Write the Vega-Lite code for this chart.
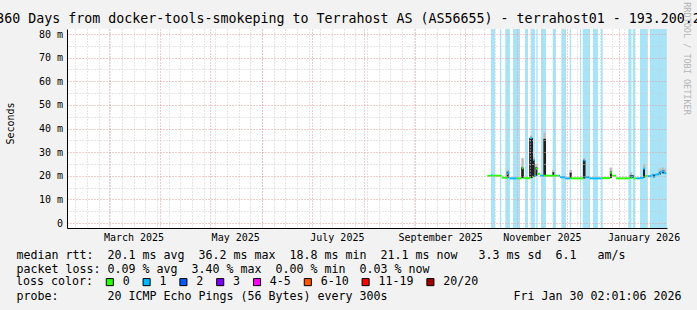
{
  "$schema": "https://vega.github.io/schema/vega-lite/v6.json",
  "width": 600,
  "height": 199,
  "autosize": {"type": "none"},
  "padding": {"left": 67, "top": 29, "right": 30, "bottom": 82},
  "background": "#f2f2f2",
  "config": {"view": {"fill": "white", "stroke": null}, "font": "DejaVu Sans Mono"},
  "title": {
    "text": "360 Days from docker-tools-smokeping to Terrahost AS (AS56655) - terrahost01 - 193.200.2",
    "font": "DejaVu Sans Mono", "fontSize": 13.3, "fontWeight": "normal", "color": "black",
    "anchor": "middle", "frame": "group", "dx": -18.5, "baseline": "alphabetic", "offset": -35
  },
  "datasets": {
    "bands": [
      {"s": "2025-10-16T11:00:00Z", "e": "2025-10-18T21:00:00Z"},
      {"s": "2025-10-21T21:00:00Z", "e": "2025-10-22T16:00:00Z"},
      {"s": "2025-10-25T01:00:00Z", "e": "2025-10-27T21:00:00Z"},
      {"s": "2025-10-29T16:00:00Z", "e": "2025-11-02T21:00:00Z"},
      {"s": "2025-11-05T21:00:00Z", "e": "2025-11-07T16:00:00Z"},
      {"s": "2025-11-09T11:00:00Z", "e": "2025-11-11T21:00:00Z"},
      {"s": "2025-11-12T16:00:00Z", "e": "2025-11-13T12:00:00Z"},
      {"s": "2025-11-15T11:00:00Z", "e": "2025-11-18T11:00:00Z"},
      {"s": "2025-11-22T12:00:00Z", "e": "2025-11-24T11:00:00Z"},
      {"s": "2025-11-27T16:00:00Z", "e": "2025-11-30T11:00:00Z"},
      {"s": "2025-12-02T17:00:00Z", "e": "2025-12-03T11:00:00Z"},
      {"s": "2025-12-08T21:00:00Z", "e": "2025-12-09T11:00:00Z"},
      {"s": "2025-12-10T12:00:00Z", "e": "2025-12-14T21:00:00Z"},
      {"s": "2025-12-16T16:00:00Z", "e": "2025-12-19T16:00:00Z"},
      {"s": "2025-12-21T11:00:00Z", "e": "2025-12-22T12:00:00Z"},
      {"s": "2026-01-06T21:00:00Z", "e": "2026-01-08T19:00:00Z"},
      {"s": "2026-01-09T12:00:00Z", "e": "2026-01-10T21:00:00Z"},
      {"s": "2026-01-13T21:00:00Z", "e": "2026-01-18T12:00:00Z"},
      {"s": "2026-01-19T21:00:00Z", "e": "2026-01-30T00:00:00Z"}
    ],
    "smoke": [
      {"t": "2025-10-26T12:00:00Z", "lo": 21.0, "hi": 22.6},
      {"t": "2025-11-04T10:00:00Z", "lo": 23.0, "hi": 27.5},
      {"t": "2025-11-09T14:00:00Z", "lo": 33.0, "hi": 37.0},
      {"t": "2025-11-11T02:00:00Z", "lo": 26.0, "hi": 28.0},
      {"t": "2025-11-12T17:00:00Z", "lo": 23.0, "hi": 25.0},
      {"t": "2025-11-17T17:00:00Z", "lo": 35.0, "hi": 38.3},
      {"t": "2025-11-22T22:00:00Z", "lo": 21.0, "hi": 22.5},
      {"t": "2025-12-03T07:00:00Z", "lo": 20.5, "hi": 22.5},
      {"t": "2025-12-11T10:00:00Z", "lo": 26.0, "hi": 27.5},
      {"t": "2025-12-27T10:00:00Z", "lo": 21.0, "hi": 23.5},
      {"t": "2026-01-08T12:00:00Z", "lo": 20.0, "hi": 21.5},
      {"t": "2026-01-16T10:00:00Z", "lo": 22.5, "hi": 25.0},
      {"t": "2026-01-25T19:00:00Z", "lo": 21.0, "hi": 23.0},
      {"t": "2026-01-27T12:00:00Z", "lo": 21.5, "hi": 23.5},
      {"t": "2026-01-28T19:00:00Z", "lo": 21.0, "hi": 23.0}
    ],
    "spikes": [
      {"t": "2025-10-26T12:00:00Z", "lo": 19.0, "hi": 21.8},
      {"t": "2025-11-04T05:00:00Z", "lo": 19.0, "hi": 23.6},
      {"t": "2025-11-04T14:00:00Z", "lo": 19.0, "hi": 23.2},
      {"t": "2025-11-08T23:00:00Z", "lo": 19.0, "hi": 36.0},
      {"t": "2025-11-09T14:00:00Z", "lo": 19.2, "hi": 36.0},
      {"t": "2025-11-10T02:00:00Z", "lo": 19.0, "hi": 36.0},
      {"t": "2025-11-11T02:00:00Z", "lo": 19.5, "hi": 26.7},
      {"t": "2025-11-12T17:00:00Z", "lo": 20.0, "hi": 23.6},
      {"t": "2025-11-17T12:00:00Z", "lo": 20.0, "hi": 35.6},
      {"t": "2025-11-17T22:00:00Z", "lo": 20.0, "hi": 35.6},
      {"t": "2025-11-22T22:00:00Z", "lo": 20.0, "hi": 21.5},
      {"t": "2025-12-03T07:00:00Z", "lo": 18.9, "hi": 21.3},
      {"t": "2025-12-11T05:00:00Z", "lo": 18.9, "hi": 26.7},
      {"t": "2025-12-11T14:00:00Z", "lo": 18.9, "hi": 26.5},
      {"t": "2025-12-27T10:00:00Z", "lo": 19.0, "hi": 21.8},
      {"t": "2026-01-08T07:00:00Z", "lo": 19.0, "hi": 20.3},
      {"t": "2026-01-09T12:00:00Z", "lo": 19.0, "hi": 20.3},
      {"t": "2026-01-16T07:00:00Z", "lo": 19.2, "hi": 22.8},
      {"t": "2026-01-22T05:00:00Z", "lo": 19.4, "hi": 20.5},
      {"t": "2026-01-25T19:00:00Z", "lo": 20.5, "hi": 21.8},
      {"t": "2026-01-27T19:00:00Z", "lo": 21.0, "hi": 22.2}
    ],
    "median": [
      {"s": "2025-10-14T07:00:00Z", "e": "2025-10-16T14:00:00Z", "v": 20.0, "loss": "0"},
      {"s": "2025-10-16T14:00:00Z", "e": "2025-10-17T07:00:00Z", "v": 20.2, "loss": "1"},
      {"s": "2025-10-17T07:00:00Z", "e": "2025-10-22T22:00:00Z", "v": 20.0, "loss": "0"},
      {"s": "2025-10-22T22:00:00Z", "e": "2025-10-25T12:00:00Z", "v": 19.2, "loss": "0"},
      {"s": "2025-10-25T12:00:00Z", "e": "2025-10-26T07:00:00Z", "v": 19.0, "loss": "0"},
      {"s": "2025-10-26T07:00:00Z", "e": "2025-10-27T12:00:00Z", "v": 21.3, "loss": "1"},
      {"s": "2025-10-27T12:00:00Z", "e": "2025-10-31T22:00:00Z", "v": 18.9, "loss": "1"},
      {"s": "2025-10-31T22:00:00Z", "e": "2025-11-03T22:00:00Z", "v": 18.9, "loss": "0"},
      {"s": "2025-11-03T22:00:00Z", "e": "2025-11-04T22:00:00Z", "v": 23.2, "loss": "0"},
      {"s": "2025-11-04T22:00:00Z", "e": "2025-11-08T22:00:00Z", "v": 19.0, "loss": "0"},
      {"s": "2025-11-08T22:00:00Z", "e": "2025-11-10T05:00:00Z", "v": 36.0, "loss": "1"},
      {"s": "2025-11-10T05:00:00Z", "e": "2025-11-10T19:00:00Z", "v": 19.6, "loss": "0"},
      {"s": "2025-11-10T19:00:00Z", "e": "2025-11-11T14:00:00Z", "v": 26.7, "loss": "1"},
      {"s": "2025-11-11T14:00:00Z", "e": "2025-11-12T10:00:00Z", "v": 20.0, "loss": "1"},
      {"s": "2025-11-12T10:00:00Z", "e": "2025-11-13T10:00:00Z", "v": 23.0, "loss": "0"},
      {"s": "2025-11-13T10:00:00Z", "e": "2025-11-14T22:00:00Z", "v": 20.8, "loss": "0"},
      {"s": "2025-11-14T22:00:00Z", "e": "2025-11-17T07:00:00Z", "v": 20.0, "loss": "1"},
      {"s": "2025-11-17T07:00:00Z", "e": "2025-11-25T22:00:00Z", "v": 20.0, "loss": "0"},
      {"s": "2025-11-25T22:00:00Z", "e": "2025-11-26T22:00:00Z", "v": 20.0, "loss": "1"},
      {"s": "2025-11-26T22:00:00Z", "e": "2025-11-29T22:00:00Z", "v": 19.4, "loss": "1"},
      {"s": "2025-11-29T22:00:00Z", "e": "2025-12-02T22:00:00Z", "v": 18.9, "loss": "1"},
      {"s": "2025-12-02T22:00:00Z", "e": "2025-12-10T22:00:00Z", "v": 18.9, "loss": "0"},
      {"s": "2025-12-10T22:00:00Z", "e": "2025-12-11T19:00:00Z", "v": 26.5, "loss": "1"},
      {"s": "2025-12-11T19:00:00Z", "e": "2025-12-14T12:00:00Z", "v": 19.4, "loss": "1"},
      {"s": "2025-12-14T12:00:00Z", "e": "2025-12-21T22:00:00Z", "v": 18.9, "loss": "1"},
      {"s": "2025-12-21T22:00:00Z", "e": "2025-12-26T22:00:00Z", "v": 19.0, "loss": "0"},
      {"s": "2025-12-26T22:00:00Z", "e": "2025-12-28T00:00:00Z", "v": 21.3, "loss": "0"},
      {"s": "2025-12-28T00:00:00Z", "e": "2025-12-30T12:00:00Z", "v": 20.0, "loss": "0"},
      {"s": "2025-12-30T12:00:00Z", "e": "2026-01-06T22:00:00Z", "v": 18.9, "loss": "0"},
      {"s": "2026-01-06T22:00:00Z", "e": "2026-01-07T22:00:00Z", "v": 19.0, "loss": "0"},
      {"s": "2026-01-07T22:00:00Z", "e": "2026-01-08T12:00:00Z", "v": 19.7, "loss": "1"},
      {"s": "2026-01-08T12:00:00Z", "e": "2026-01-09T05:00:00Z", "v": 19.0, "loss": "0"},
      {"s": "2026-01-09T05:00:00Z", "e": "2026-01-09T22:00:00Z", "v": 19.7, "loss": "1"},
      {"s": "2026-01-09T22:00:00Z", "e": "2026-01-11T12:00:00Z", "v": 18.9, "loss": "0"},
      {"s": "2026-01-11T12:00:00Z", "e": "2026-01-13T22:00:00Z", "v": 18.9, "loss": "1"},
      {"s": "2026-01-13T22:00:00Z", "e": "2026-01-15T22:00:00Z", "v": 19.1, "loss": "1"},
      {"s": "2026-01-15T22:00:00Z", "e": "2026-01-16T22:00:00Z", "v": 23.0, "loss": "1"},
      {"s": "2026-01-16T22:00:00Z", "e": "2026-01-18T12:00:00Z", "v": 19.8, "loss": "0"},
      {"s": "2026-01-18T12:00:00Z", "e": "2026-01-20T22:00:00Z", "v": 19.8, "loss": "1"},
      {"s": "2026-01-20T22:00:00Z", "e": "2026-01-21T22:00:00Z", "v": 20.4, "loss": "1"},
      {"s": "2026-01-21T22:00:00Z", "e": "2026-01-22T22:00:00Z", "v": 19.5, "loss": "1"},
      {"s": "2026-01-22T22:00:00Z", "e": "2026-01-23T22:00:00Z", "v": 20.4, "loss": "1"},
      {"s": "2026-01-23T22:00:00Z", "e": "2026-01-25T12:00:00Z", "v": 20.6, "loss": "1"},
      {"s": "2026-01-25T12:00:00Z", "e": "2026-01-26T22:00:00Z", "v": 21.5, "loss": "1"},
      {"s": "2026-01-26T22:00:00Z", "e": "2026-01-28T12:00:00Z", "v": 21.9, "loss": "1"},
      {"s": "2026-01-28T12:00:00Z", "e": "2026-01-29T14:00:00Z", "v": 21.1, "loss": "1"}
    ]
  },
  "layer": [
    {
      "data": {"name": "bands"},
      "mark": {"type": "rect", "color": "#a8e4f7"},
      "encoding": {
        "x": {
          "field": "s", "type": "temporal",
          "scale": {"type": "utc", "domain": [{"year": 2025, "month": 2, "date": 4, "hours": 2, "minutes": 1, "seconds": 6, "utc": true}, {"year": 2026, "month": 1, "date": 30, "hours": 2, "minutes": 1, "seconds": 6, "utc": true}]},
          "axis": {
            "orient": "bottom", "grid": true, "gridColor": "#cccccc", "gridDash": [1, 2], "gridWidth": 1, "labels": false, "ticks": false, "domain": false,
            "tickCount": {"interval": "week", "step": 1}, "zindex": 1,
            "title": "probe:\u00a0\u00a0\u00a0\u00a0\u00a0\u00a0\u00a020\u00a0ICMP\u00a0Echo\u00a0Pings\u00a0(56\u00a0Bytes)\u00a0every\u00a0300s\u00a0\u00a0\u00a0\u00a0\u00a0\u00a0\u00a0\u00a0\u00a0\u00a0\u00a0\u00a0\u00a0\u00a0\u00a0\u00a0\u00a0\u00a0Fri\u00a0Jan\u00a030\u00a002:01:06\u00a02026",
            "titleFont": "DejaVu Sans Mono", "titleFontSize": 11.63, "titleFontWeight": "normal", "titleColor": "black",
            "titleAnchor": "start", "titleAlign": "left", "titleBaseline": "alphabetic", "titleAngle": 0,
            "titleX": -51, "titleY": 71.7
          }
        },
        "x2": {"field": "e"}
      }
    },
    {
      "data": {"name": "smoke"},
      "mark": {"type": "rule", "color": "#bdbdbd", "strokeWidth": 2.5},
      "encoding": {
        "x": {
          "field": "t", "type": "temporal",
          "scale": {"type": "utc", "domain": [{"year": 2025, "month": 2, "date": 4, "hours": 2, "minutes": 1, "seconds": 6, "utc": true}, {"year": 2026, "month": 1, "date": 30, "hours": 2, "minutes": 1, "seconds": 6, "utc": true}]},
          "axis": {"orient": "bottom", "grid": true, "gridColor": "#e49a9a", "gridDash": [1, 2], "gridWidth": 1, "labels": false, "ticks": false, "domain": false, "title": null, "tickCount": {"interval": "month", "step": 1}, "zindex": 1}
        },
        "y": {
          "field": "lo", "type": "quantitative",
          "scale": {"domain": [0, 80], "nice": false, "zero": false},
          "axis": {"orient": "left", "grid": true, "gridColor": "#cccccc", "gridDash": [1, 2], "labels": false, "ticks": false, "domain": false, "title": null, "values": [5, 15, 25, 35, 45, 55, 65, 75], "zindex": 1}
        },
        "y2": {"field": "hi"}
      }
    },
    {
      "data": {"name": "spikes"},
      "mark": {"type": "rule", "color": "#202020", "strokeWidth": 2},
      "encoding": {
        "x": {
          "field": "t", "type": "temporal",
          "scale": {"type": "utc", "domain": [{"year": 2025, "month": 2, "date": 4, "hours": 2, "minutes": 1, "seconds": 6, "utc": true}, {"year": 2026, "month": 1, "date": 30, "hours": 2, "minutes": 1, "seconds": 6, "utc": true}]},
          "axis": {
            "orient": "bottom", "grid": false, "ticks": false, "tickSize": 0, "domain": true, "domainColor": "black", "domainWidth": 1,
            "values": [
              {"year": 2025, "month": 3, "date": 16, "utc": true},
              {"year": 2025, "month": 5, "date": 16, "utc": true},
              {"year": 2025, "month": 7, "date": 16, "utc": true},
              {"year": 2025, "month": 9, "date": 16, "utc": true},
              {"year": 2025, "month": 11, "date": 16, "utc": true},
              {"year": 2026, "month": 1, "date": 16, "utc": true}
            ],
            "format": "%B %Y", "labelFont": "DejaVu Sans Mono", "labelFontSize": 10, "labelColor": "black",
            "labelBaseline": "alphabetic", "labelPadding": 12.5, "labelFlush": false, "labelOverlap": false, "labelAlign": "center",
            "title": [
              "median\u00a0rtt:\u00a0\u00a020.1\u00a0ms\u00a0avg\u00a0\u00a036.2\u00a0ms\u00a0max\u00a0\u00a018.8\u00a0ms\u00a0min\u00a0\u00a021.1\u00a0ms\u00a0now\u00a0\u00a0\u00a03.3\u00a0ms\u00a0sd\u00a0\u00a06.1\u00a0\u00a0\u00a0am/s",
              "packet\u00a0loss:\u00a00.09\u00a0%\u00a0avg\u00a0\u00a03.40\u00a0%\u00a0max\u00a0\u00a00.00\u00a0%\u00a0min\u00a0\u00a00.03\u00a0%\u00a0now"
            ],
            "titleFont": "DejaVu Sans Mono", "titleFontSize": 11.63, "titleFontWeight": "normal", "titleColor": "black",
            "titleAnchor": "start", "titleAlign": "left", "titleBaseline": "alphabetic", "titleAngle": 0,
            "titleX": -51, "titleY": 30.3, "titleLineHeight": 13.8, "zindex": 1
          }
        },
        "y": {
          "field": "lo", "type": "quantitative",
          "scale": {"domain": [0, 80], "nice": false, "zero": false},
          "axis": {
            "orient": "left", "grid": true, "gridColor": "#e49a9a", "gridDash": [1, 2], "ticks": false, "tickSize": 0,
            "domain": true, "domainColor": "black", "domainWidth": 1,
            "values": [0, 10, 20, 30, 40, 50, 60, 70, 80],
            "labelExpr": "datum.value == 0 ? '0\u00a0\u00a0' : datum.value + '\u00a0m'",
            "labelFont": "DejaVu Sans Mono", "labelFontSize": 10, "labelColor": "black", "labelPadding": 4.5,
            "labelAlign": "right", "labelBaseline": "middle",
            "title": "Seconds", "titleFont": "DejaVu Sans Mono", "titleFontSize": 10, "titleFontWeight": "normal", "titleColor": "black",
            "titleAngle": 270, "titleAlign": "center", "titleBaseline": "middle", "titleX": -57, "titleY": 94, "zindex": 1
          }
        },
        "y2": {"field": "hi"}
      }
    },
    {
      "data": {"name": "median"},
      "mark": {"type": "bar", "size": 2},
      "encoding": {
        "x": {
          "field": "s", "type": "temporal",
          "scale": {"type": "utc", "domain": [{"year": 2025, "month": 2, "date": 4, "hours": 2, "minutes": 1, "seconds": 6, "utc": true}, {"year": 2026, "month": 1, "date": 30, "hours": 2, "minutes": 1, "seconds": 6, "utc": true}]},
          "axis": null
        },
        "x2": {"field": "e"},
        "y": {
          "field": "v", "type": "quantitative",
          "scale": {"domain": [0, 80], "nice": false, "zero": false},
          "axis": {
            "orient": "right", "labels": false, "ticks": false, "domain": false, "grid": false,
            "title": "RRDTOOL / TOBI OETIKER", "titleFont": "DejaVu Sans Mono", "titleFontSize": 8.5, "titleFontWeight": "normal",
            "titleColor": "#b4b4b4", "titleAngle": 90, "titleAlign": "center", "titleBaseline": "middle", "titleX": 19, "titleY": 29
          }
        },
        "color": {
          "field": "loss", "type": "nominal",
          "scale": {
            "domain": ["0", "1", "2", "3", "4-5", "6-10", "11-19", "20/20"],
            "range": ["#26ff00", "#00b8ff", "#0059ff", "#7e00ff", "#ff00ff", "#ff5500", "#ff0000", "#a10000"]
          },
          "legend": {
            "orient": "none", "legendX": -51, "legendY": 247.3, "direction": "horizontal", "gridAlign": "none",
            "title": "loss color:", "titleOrient": "left", "titleFont": "DejaVu Sans Mono", "titleFontSize": 11.63,
            "titleFontWeight": "normal", "titleColor": "black", "titlePadding": 11, "titleBaseline": "middle",
            "labelFont": "DejaVu Sans Mono", "labelFontSize": 11.63, "labelColor": "black", "labelOffset": 7,
            "symbolType": "square", "symbolSize": 50, "symbolStrokeColor": "black", "symbolStrokeWidth": 1, "symbolOpacity": 1,
            "columnPadding": 10.8, "padding": 0, "labelLimit": 200
          }
        }
      }
    }
  ],
  "resolve": {"axis": {"x": "independent", "y": "independent"}}
}
